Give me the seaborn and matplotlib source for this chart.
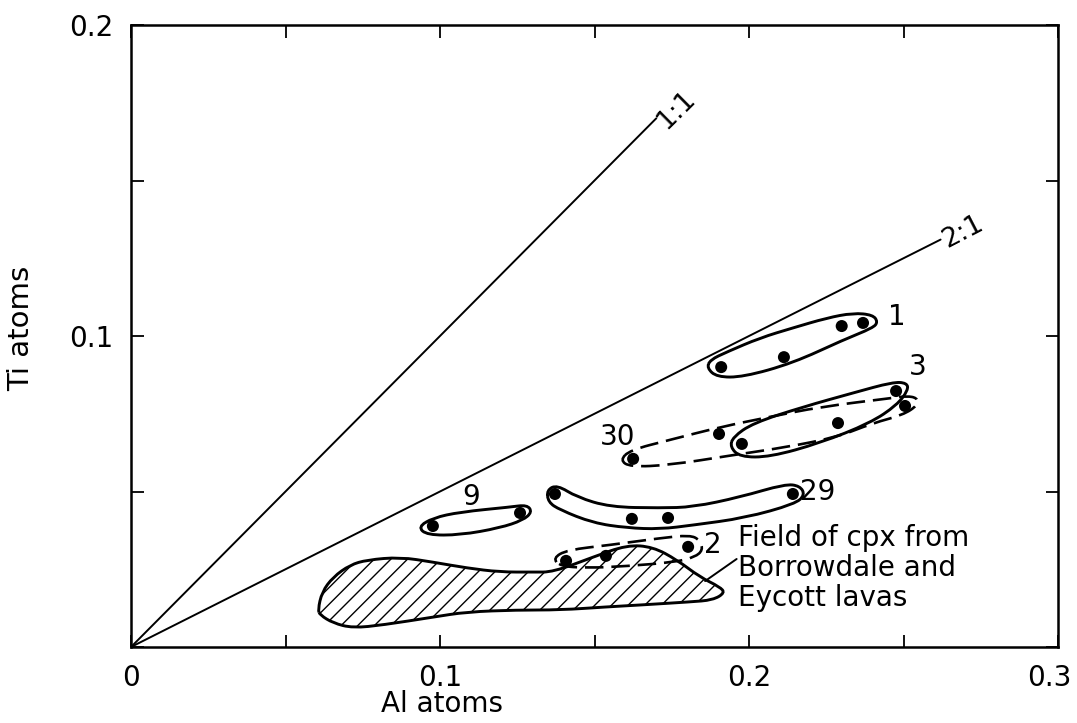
import numpy as np
import pandas as pd
import matplotlib
matplotlib.use("Agg")
import matplotlib.pyplot as plt
from matplotlib.path import Path
from matplotlib.patches import PathPatch
from matplotlib.transforms import ScaledTranslation
import seaborn as sns

# ---------------- data ----------------
grp1_al = [0.1910, 0.2113, 0.2300, 0.2369]
grp1_ti = [0.0900, 0.0932, 0.1032, 0.1042]
grp3_al = [0.1977, 0.2288, 0.2476]
grp3_ti = [0.0653, 0.0720, 0.0823]
grp30_al = [0.1625, 0.1903, 0.2505]
grp30_ti = [0.0605, 0.0685, 0.0775]
grp9_al = [0.0977, 0.1259]
grp9_ti = [0.0389, 0.0431]
grp29_al = [0.1372, 0.1621, 0.1738, 0.2142]
grp29_ti = [0.0492, 0.0412, 0.0415, 0.0492]
grp2_al = [0.1408, 0.1537, 0.1803]
grp2_ti = [0.0277, 0.0293, 0.0322]

group_names = ["1", "3", "30", "9", "29", "2"]
label_al = [0.2479, 0.2547, 0.1576, 0.1100, 0.2223, 0.1883]
label_ti = [0.1061, 0.0900, 0.0675, 0.0482, 0.0498, 0.0328]

# reference ratio lines Ti:Al
ratio_names = ["1:1", "2:1"]
ratio_slope = [1.0, 0.5]
ratio_end_al = [0.170, 0.262]
ratio_label_al = [0.1765, 0.2693]
ratio_label_ti = [0.1725, 0.1334]

# outlines around groups
out1_al = [0.1864, 0.1896, 0.1981, 0.2142, 0.2304, 0.2401, 0.2417, 0.2401, 0.2337, 0.2252, 0.2142, 0.2036, 0.1929, 0.1874]
out1_ti = [0.0897, 0.0868, 0.0868, 0.0913, 0.0987, 0.1026, 0.1045, 0.1068, 0.1074, 0.1058, 0.1026, 0.0994, 0.0949, 0.0923]
out3_al = [0.1939, 0.1971, 0.2068, 0.2230, 0.2392, 0.2479, 0.2515, 0.2511, 0.2466, 0.2337, 0.2175, 0.2013, 0.1948]
out3_ti = [0.0643, 0.0611, 0.0611, 0.0656, 0.0720, 0.0778, 0.0826, 0.0849, 0.0852, 0.0817, 0.0772, 0.0720, 0.0675]
out30_al = [0.1583, 0.1615, 0.1744, 0.1948, 0.2123, 0.2285, 0.2401, 0.2498, 0.2547, 0.2544, 0.2511, 0.2466, 0.2230, 0.2068, 0.1906, 0.1744, 0.1615]
out30_ti = [0.0601, 0.0579, 0.0585, 0.0617, 0.0643, 0.0675, 0.0720, 0.0746, 0.0778, 0.0801, 0.0807, 0.0801, 0.0772, 0.0740, 0.0707, 0.0666, 0.0633]
out9_al = [0.0929, 0.0958, 0.1065, 0.1194, 0.1269, 0.1298, 0.1282, 0.1227, 0.1065, 0.0977]
out9_ti = [0.0386, 0.0360, 0.0360, 0.0383, 0.0408, 0.0434, 0.0457, 0.0450, 0.0434, 0.0415]
out29_al = [0.1346, 0.1379, 0.1443, 0.1550, 0.1712, 0.1819, 0.1971, 0.2117, 0.2165, 0.2181, 0.2149, 0.1987, 0.1819, 0.1712, 0.1605, 0.1495, 0.1388, 0.1350]
out29_ti = [0.0505, 0.0521, 0.0482, 0.0450, 0.0447, 0.0450, 0.0482, 0.0524, 0.0518, 0.0489, 0.0460, 0.0415, 0.0392, 0.0379, 0.0383, 0.0399, 0.0441, 0.0466]
out2_al = [0.1366, 0.1411, 0.1550, 0.1712, 0.1809, 0.1841, 0.1851, 0.1825, 0.1761, 0.1605, 0.1476, 0.1388]
out2_ti = [0.0286, 0.0312, 0.0328, 0.0350, 0.0360, 0.0344, 0.0312, 0.0289, 0.0273, 0.0260, 0.0254, 0.0260]

# hatched field of cpx from Borrowdale and Eycott lavas
field_al = [0.0605, 0.0618, 0.0654, 0.0709, 0.0764, 0.0871, 0.0977, 0.1087, 0.1194, 0.1301, 0.1366, 0.1495,
            0.1605, 0.1689, 0.1767, 0.1841, 0.1906, 0.1922, 0.1883, 0.1809, 0.1647, 0.1540, 0.1388, 0.1249,
            0.1087, 0.0977, 0.0816, 0.0718, 0.0654, 0.0612]
field_ti = [0.0119, 0.0177, 0.0225, 0.0264, 0.0280, 0.0289, 0.0273, 0.0254, 0.0241, 0.0241, 0.0241, 0.0289,
            0.0328, 0.0322, 0.0280, 0.0225, 0.0193, 0.0174, 0.0151, 0.0145, 0.0135, 0.0129, 0.0119, 0.0119,
            0.0113, 0.0096, 0.0071, 0.0061, 0.0077, 0.0103]
field_text = "Field of cpx from\nBorrowdale and\nEycott lavas"
field_text_al, field_text_ti = 0.1964, 0.0254
field_arrow_from = (0.1960, 0.0283)
field_arrow_to = (0.1858, 0.0212)

x_major = [0.0, 0.1, 0.2, 0.3]
x_minor = [0.05, 0.15, 0.25]
x_labels = ["0", "0.1", "0.2", "0.3"]
y_major = [0.0, 0.1, 0.2]
y_minor = [0.05, 0.15]
y_labels = ["", "0.1", "0.2"]

# ---------------- style ----------------
sns.set_theme(style="ticks")
plt.rcParams["font.family"] = ["DejaVu Sans"]
plt.rcParams["hatch.linewidth"] = 1.0
plt.rcParams["hatch.color"] = "black"
plt.rcParams["text.color"] = "black"
plt.rcParams["axes.labelcolor"] = "black"

fig = plt.figure(figsize=(10.77, 7.23), dpi=100)
ax = fig.add_axes([131 / 1077, 1 - 647 / 723, 927 / 1077, 622 / 723])

# points
pts = pd.DataFrame({
    "Al": grp1_al + grp3_al + grp30_al + grp9_al + grp29_al + grp2_al,
    "Ti": grp1_ti + grp3_ti + grp30_ti + grp9_ti + grp29_ti + grp2_ti,
})
sns.scatterplot(data=pts, x="Al", y="Ti", color="black", s=75, edgecolor="none", ax=ax, zorder=5)

# ratio lines
for name, k, xe, lx, ly in zip(ratio_names, ratio_slope, ratio_end_al, ratio_label_al, ratio_label_ti):
    line_df = pd.DataFrame({"Al": [0.0, xe], "Ti": [0.0, k * xe]})
    sns.lineplot(data=line_df, x="Al", y="Ti", color="black", lw=1.4, ax=ax)
    d = ax.transData.transform((xe, k * xe)) - ax.transData.transform((0, 0))
    ang = np.degrees(np.arctan2(d[1], d[0]))
    ax.text(lx, ly, name, rotation=ang, rotation_mode="anchor", ha="center", va="center",
            fontsize=19, color="black")


def smooth_closed(xs, ys):
    p = np.column_stack([xs, ys])
    mids = (p + np.roll(p, -1, axis=0)) / 2
    verts = [mids[-1]]
    codes = [Path.MOVETO]
    for i in range(len(p)):
        verts += [p[i], mids[i]]
        codes += [Path.CURVE3, Path.CURVE3]
    return Path(verts, codes)


solid = [(out1_al, out1_ti), (out3_al, out3_ti), (out9_al, out9_ti), (out29_al, out29_ti)]
dashed = [(out30_al, out30_ti), (out2_al, out2_ti)]
for xs, ys in solid:
    ax.add_patch(PathPatch(smooth_closed(xs, ys), fill=False, edgecolor="black", lw=2.1, zorder=4))
for xs, ys in dashed:
    ax.add_patch(PathPatch(smooth_closed(xs, ys), fill=False, edgecolor="black", lw=1.9,
                           linestyle=(0, (7, 3)), zorder=4))

ax.add_patch(PathPatch(smooth_closed(field_al, field_ti), facecolor="none", edgecolor="black",
                       hatch="//", lw=2.1, zorder=3))

for name, lx, ly in zip(group_names, label_al, label_ti):
    ax.text(lx, ly, name, ha="center", va="center", fontsize=20, color="black")

ax.text(field_text_al, field_text_ti, field_text, ha="left", va="center", fontsize=20,
        linespacing=1.1, color="black")
ax.annotate("", xy=field_arrow_to, xytext=field_arrow_from,
            arrowprops=dict(arrowstyle="-", color="black", lw=1.4, shrinkA=0, shrinkB=0))

# axes
ax.set_xlim(0, 0.3)
ax.set_ylim(0, 0.2)
ax.set_xticks(x_major)
ax.set_xticklabels(x_labels)
ax.set_xticks(x_minor, minor=True)
ax.set_yticks(y_major)
ax.set_yticklabels(y_labels)
ax.set_yticks(y_minor, minor=True)
ax.tick_params(which="both", direction="in", top=True, right=True, length=9, width=1.3,
               color="black", labelsize=20, labelcolor="black")
ax.tick_params(axis="x", which="both", pad=12)
ax.tick_params(axis="y", which="both", pad=13)
for s in ax.spines.values():
    s.set_linewidth(1.8)
    s.set_color("black")

# the last x tick label sits slightly left of its tick in the reference
last_lbl = ax.get_xticklabels()[-1]
last_lbl.set_transform(last_lbl.get_transform() + ScaledTranslation(-0.09, 0, fig.dpi_scale_trans))

ax.set_xlabel("Al atoms", fontsize=20, color="black")
ax.set_ylabel("Ti atoms", fontsize=21, color="black")
ax.xaxis.label.set_va("center")
ax.yaxis.label.set_va("center")
ax.xaxis.set_label_coords(0.336, -0.092)
ax.yaxis.set_label_coords(-0.118, 0.513)

fig.savefig("out.png", dpi=100, facecolor="white")
